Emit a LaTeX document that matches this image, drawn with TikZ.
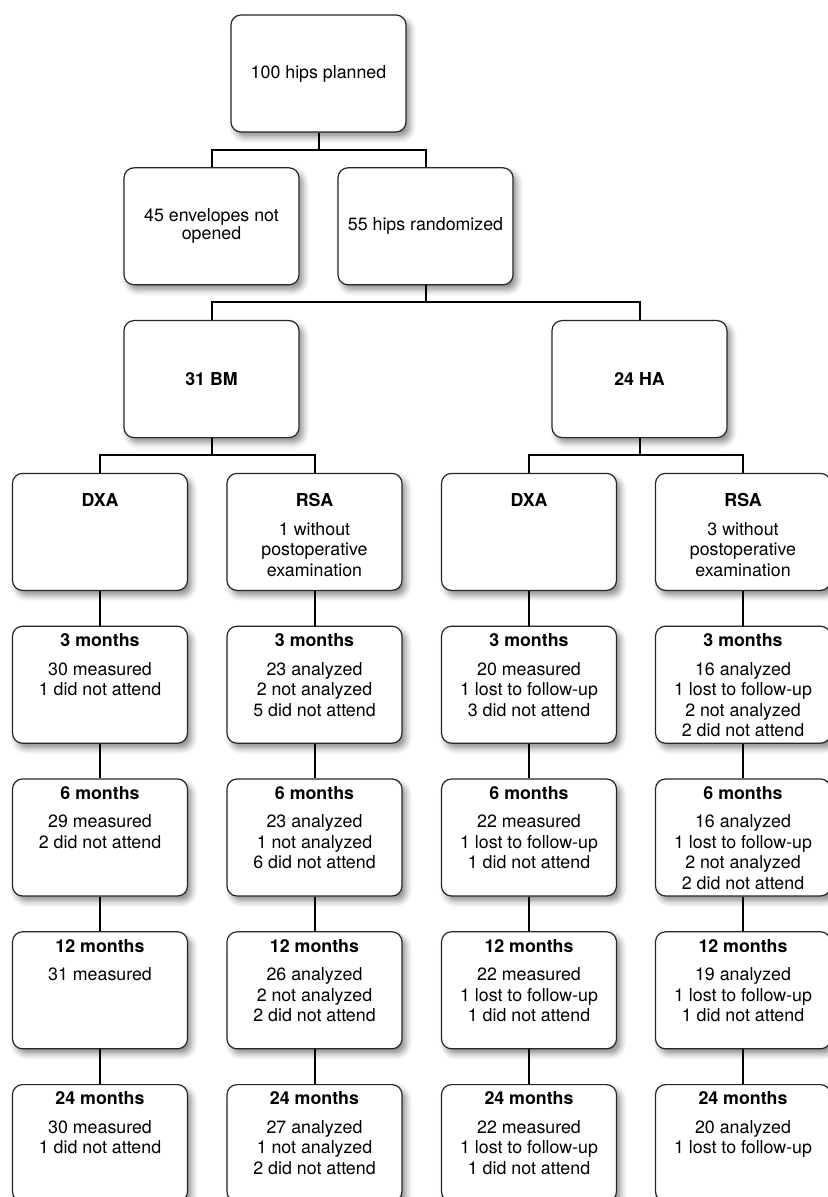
\documentclass[tikz,border=0pt]{standalone}
\usepackage{fontspec}
\setmainfont{TeX Gyre Heros}
\usetikzlibrary{shadows.blur}
\begin{document}
\begin{tikzpicture}[x=0.5pt, y=-0.5pt,
		box/.style={draw=black!85, line width=0.6pt, fill=white, rounded corners=5pt,
			minimum width=87.5pt, minimum height=58.5pt, align=center, inner sep=0pt,
			blur shadow={shadow xshift=2pt, shadow yshift=-2.5pt, shadow blur radius=3pt, shadow opacity=45},
			font=\fontsize{8.9pt}{9pt}\selectfont},
		txt/.style={anchor=north, align=center, inner sep=0pt, font=\fontsize{8.9pt}{10.25pt}\selectfont},
		link/.style={line width=1pt}]
	\useasboundingbox (0,0) rectangle (827,1197);
	% recruitment and groups
	\node[box] (plan) at (318.5,73.5) {100 hips planned};
	\node[box] (env) at (211.5,226.3) {45 envelopes not\\opened};
	\node[box] (rand) at (425.5,226.3) {55 hips randomized};
	\node[box] (bm) at (211.5,379.1) {\textbf{31 BM}};
	\node[box] (ha) at (639.5,379.1) {\textbf{24 HA}};
	% methods
	\node[box] (bmdxa) at (100,531.9) {};
	\node[box] (bmrsa) at (314.5,531.9) {};
	\node[box] (hadxa) at (529,531.9) {};
	\node[box] (harsa) at (743,531.9) {};
	\node[txt] (bmdxat) at ([yshift=-10.3pt]bmdxa.north) {\textbf{DXA}};
	\node[txt] (bmrsat) at ([yshift=-10.3pt]bmrsa.north) {\textbf{RSA}\\[4pt]1 without\\postoperative\\examination};
	\node[txt] (hadxat) at ([yshift=-10.3pt]hadxa.north) {\textbf{DXA}};
	\node[txt] (harsat) at ([yshift=-10.3pt]harsa.north) {\textbf{RSA}\\[4pt]3 without\\postoperative\\examination};
	% 3 months
	\node[box] (bmdxa3) at (100,684.7) {};
	\node[box] (bmrsa3) at (314.5,684.7) {};
	\node[box] (hadxa3) at (529,684.7) {};
	\node[box] (harsa3) at (743,684.7) {};
	\node[txt] (bmdxa3t) at ([yshift=-3.8pt]bmdxa3.north) {\textbf{3 months}\\[4pt]30 measured\\1 did not attend};
	\node[txt] (bmrsa3t) at ([yshift=-3.8pt]bmrsa3.north) {\textbf{3 months}\\[4pt]23 analyzed\\2 not analyzed\\5 did not attend};
	\node[txt] (hadxa3t) at ([yshift=-3.8pt]hadxa3.north) {\textbf{3 months}\\[4pt]20 measured\\1 lost to follow-up\\3 did not attend};
	\node[txt] (harsa3t) at ([yshift=-3.8pt]harsa3.north) {\textbf{3 months}\\[4pt]16 analyzed\\1 lost to follow-up\\2 not analyzed\\2 did not attend};
	% 6 months
	\node[box] (bmdxa6) at (100,837.5) {};
	\node[box] (bmrsa6) at (314.5,837.5) {};
	\node[box] (hadxa6) at (529,837.5) {};
	\node[box] (harsa6) at (743,837.5) {};
	\node[txt] (bmdxa6t) at ([yshift=-3.8pt]bmdxa6.north) {\textbf{6 months}\\[4pt]29 measured\\2 did not attend};
	\node[txt] (bmrsa6t) at ([yshift=-3.8pt]bmrsa6.north) {\textbf{6 months}\\[4pt]23 analyzed\\1 not analyzed\\6 did not attend};
	\node[txt] (hadxa6t) at ([yshift=-3.8pt]hadxa6.north) {\textbf{6 months}\\[4pt]22 measured\\1 lost to follow-up\\1 did not attend};
	\node[txt] (harsa6t) at ([yshift=-3.8pt]harsa6.north) {\textbf{6 months}\\[4pt]16 analyzed\\1 lost to follow-up\\2 not analyzed\\2 did not attend};
	% 12 months
	\node[box] (bmdxa12) at (100,990.3) {};
	\node[box] (bmrsa12) at (314.5,990.3) {};
	\node[box] (hadxa12) at (529,990.3) {};
	\node[box] (harsa12) at (743,990.3) {};
	\node[txt] (bmdxa12t) at ([yshift=-3.8pt]bmdxa12.north) {\textbf{12 months}\\[4pt]31 measured};
	\node[txt] (bmrsa12t) at ([yshift=-3.8pt]bmrsa12.north) {\textbf{12 months}\\[4pt]26 analyzed\\2 not analyzed\\2 did not attend};
	\node[txt] (hadxa12t) at ([yshift=-3.8pt]hadxa12.north) {\textbf{12 months}\\[4pt]22 measured\\1 lost to follow-up\\1 did not attend};
	\node[txt] (harsa12t) at ([yshift=-3.8pt]harsa12.north) {\textbf{12 months}\\[4pt]19 analyzed\\1 lost to follow-up\\1 did not attend};
	% 24 months
	\node[box] (bmdxa24) at (100,1143.1) {};
	\node[box] (bmrsa24) at (314.5,1143.1) {};
	\node[box] (hadxa24) at (529,1143.1) {};
	\node[box] (harsa24) at (743,1143.1) {};
	\node[txt] (bmdxa24t) at ([yshift=-3.8pt]bmdxa24.north) {\textbf{24 months}\\[4pt]30 measured\\1 did not attend};
	\node[txt] (bmrsa24t) at ([yshift=-3.8pt]bmrsa24.north) {\textbf{24 months}\\[4pt]27 analyzed\\1 not analyzed\\2 did not attend};
	\node[txt] (hadxa24t) at ([yshift=-3.8pt]hadxa24.north) {\textbf{24 months}\\[4pt]22 measured\\1 lost to follow-up\\1 did not attend};
	\node[txt] (harsa24t) at ([yshift=-3.8pt]harsa24.north) {\textbf{24 months}\\[4pt]20 analyzed\\1 lost to follow-up};
	% connectors
	\draw[link] (plan.south) -- ++(0,17) -| (env.north);
	\draw[link] (plan.south) -- ++(0,17) -| (rand.north);
	\draw[link] (rand.south) -- ++(0,17) -| (bm.north);
	\draw[link] (rand.south) -- ++(0,17) -| (ha.north);
	\draw[link] (bm.south) -- ++(0,17) -| (bmdxa.north);
	\draw[link] (bm.south) -- ++(0,17) -| (bmrsa.north);
	\draw[link] (ha.south) -- ++(0,17) -| (hadxa.north);
	\draw[link] (ha.south) -- ++(0,17) -| (harsa.north);
	\foreach \c in {bmdxa,bmrsa,hadxa,harsa} {
		\draw[link] (\c.south) -- (\c3.north);
		\draw[link] (\c3.south) -- (\c6.north);
		\draw[link] (\c6.south) -- (\c12.north);
		\draw[link] (\c12.south) -- (\c24.north);
	}
\end{tikzpicture}
\end{document}
